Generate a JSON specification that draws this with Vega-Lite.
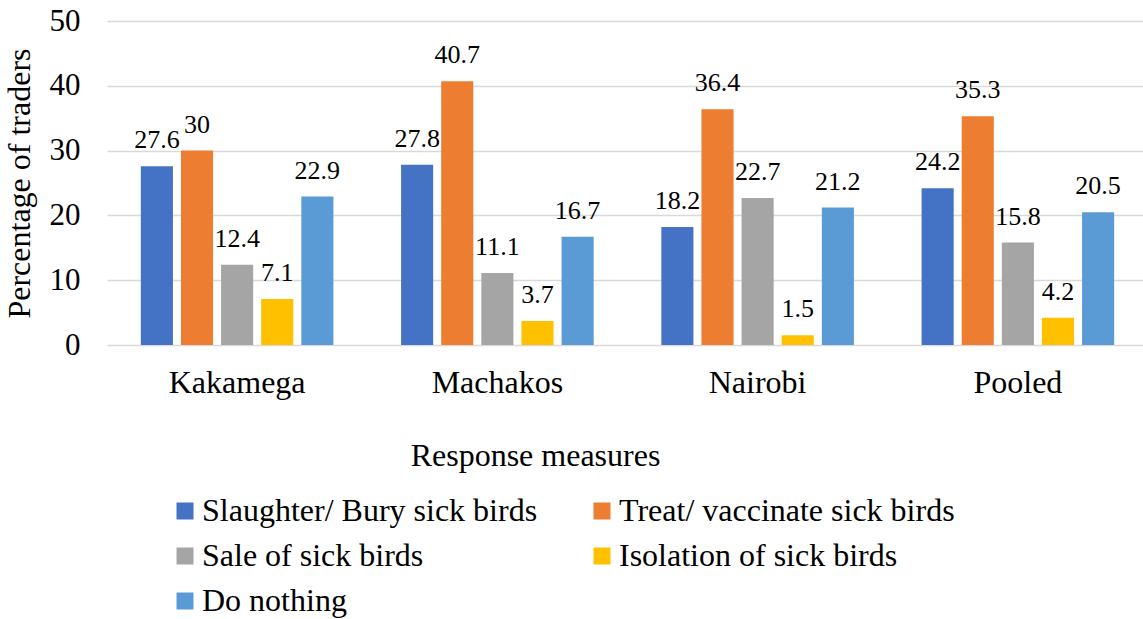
{
  "$schema": "https://vega.github.io/schema/vega-lite/v6.json",
  "width": 1036,
  "height": 324,
  "autosize": {"type": "none"},
  "padding": {"left": 107, "top": 21, "right": 0, "bottom": 274},
  "background": "white",
  "config": {
    "view": {"stroke": null},
    "font": "Liberation Serif"
  },
  "data": {"values": [
    {"location": "Kakamega", "measure": "Slaughter/ Bury sick birds", "value": 27.6},
    {"location": "Kakamega", "measure": "Treat/ vaccinate sick birds", "value": 30},
    {"location": "Kakamega", "measure": "Sale of sick birds", "value": 12.4},
    {"location": "Kakamega", "measure": "Isolation of sick birds", "value": 7.1},
    {"location": "Kakamega", "measure": "Do nothing", "value": 22.9},
    {"location": "Machakos", "measure": "Slaughter/ Bury sick birds", "value": 27.8},
    {"location": "Machakos", "measure": "Treat/ vaccinate sick birds", "value": 40.7},
    {"location": "Machakos", "measure": "Sale of sick birds", "value": 11.1},
    {"location": "Machakos", "measure": "Isolation of sick birds", "value": 3.7},
    {"location": "Machakos", "measure": "Do nothing", "value": 16.7},
    {"location": "Nairobi", "measure": "Slaughter/ Bury sick birds", "value": 18.2},
    {"location": "Nairobi", "measure": "Treat/ vaccinate sick birds", "value": 36.4},
    {"location": "Nairobi", "measure": "Sale of sick birds", "value": 22.7},
    {"location": "Nairobi", "measure": "Isolation of sick birds", "value": 1.5},
    {"location": "Nairobi", "measure": "Do nothing", "value": 21.2},
    {"location": "Pooled", "measure": "Slaughter/ Bury sick birds", "value": 24.2},
    {"location": "Pooled", "measure": "Treat/ vaccinate sick birds", "value": 35.3},
    {"location": "Pooled", "measure": "Sale of sick birds", "value": 15.8},
    {"location": "Pooled", "measure": "Isolation of sick birds", "value": 4.2},
    {"location": "Pooled", "measure": "Do nothing", "value": 20.5}
  ]},
  "encoding": {
    "x": {
      "field": "location", "type": "nominal",
      "sort": ["Kakamega", "Machakos", "Nairobi", "Pooled"],
      "scale": {"paddingInner": 0.26, "paddingOuter": 0.13, "range": [0, 1041]},
      "axis": {
        "labelAngle": 0, "labelFontSize": 32, "labelColor": "#000000", "labelPadding": 22,
        "ticks": false, "domain": false,
        "title": "Response measures", "titleFontSize": 32, "titleFontWeight": "normal", "titleColor": "#000000",
        "titleX": 428, "titleY": 120, "titleBaseline": "alphabetic"
      }
    },
    "xOffset": {
      "field": "measure", "type": "nominal",
      "sort": ["Slaughter/ Bury sick birds", "Treat/ vaccinate sick birds", "Sale of sick birds", "Isolation of sick birds", "Do nothing"],
      "scale": {"paddingInner": 0.2, "paddingOuter": 0}
    },
    "y": {
      "field": "value", "type": "quantitative",
      "scale": {"domain": [0, 50], "nice": false},
      "axis": {
        "values": [0, 10, 20, 30, 40, 50],
        "grid": true, "gridColor": "#d9d9d9", "gridWidth": 1.5,
        "domain": false, "ticks": false,
        "labelFontSize": 31, "labelColor": "#000000", "labelPadding": 27,
        "title": "Percentage of traders", "titleFontSize": 32, "titleFontWeight": "normal", "titleColor": "#000000",
        "titlePadding": 13
      }
    }
  },
  "layer": [
    {
      "mark": {"type": "bar"},
      "encoding": {
        "color": {
          "field": "measure", "type": "nominal",
          "sort": ["Slaughter/ Bury sick birds", "Treat/ vaccinate sick birds", "Sale of sick birds", "Isolation of sick birds", "Do nothing"],
          "scale": {
            "domain": ["Slaughter/ Bury sick birds", "Treat/ vaccinate sick birds", "Sale of sick birds", "Isolation of sick birds", "Do nothing"],
            "range": ["#4472C4", "#ED7D31", "#A5A5A5", "#FFC000", "#5B9BD5"]
          },
          "legend": {
            "orient": "none", "legendX": 62, "legendY": 474,
            "columns": 2, "direction": "horizontal",
            "title": null, "padding": 0,
            "symbolType": "square", "symbolSize": 289, "symbolStrokeWidth": 0, "symbolOpacity": 1,
            "labelFontSize": 32, "labelColor": "#000000", "labelOffset": 1, "labelLimit": 600,
            "columnPadding": 48, "rowPadding": 13
          }
        }
      }
    },
    {
      "mark": {"type": "text", "baseline": "alphabetic", "dy": -18, "fontSize": 26, "color": "#000000"},
      "encoding": {"text": {"field": "value", "type": "quantitative"}}
    }
  ]
}
